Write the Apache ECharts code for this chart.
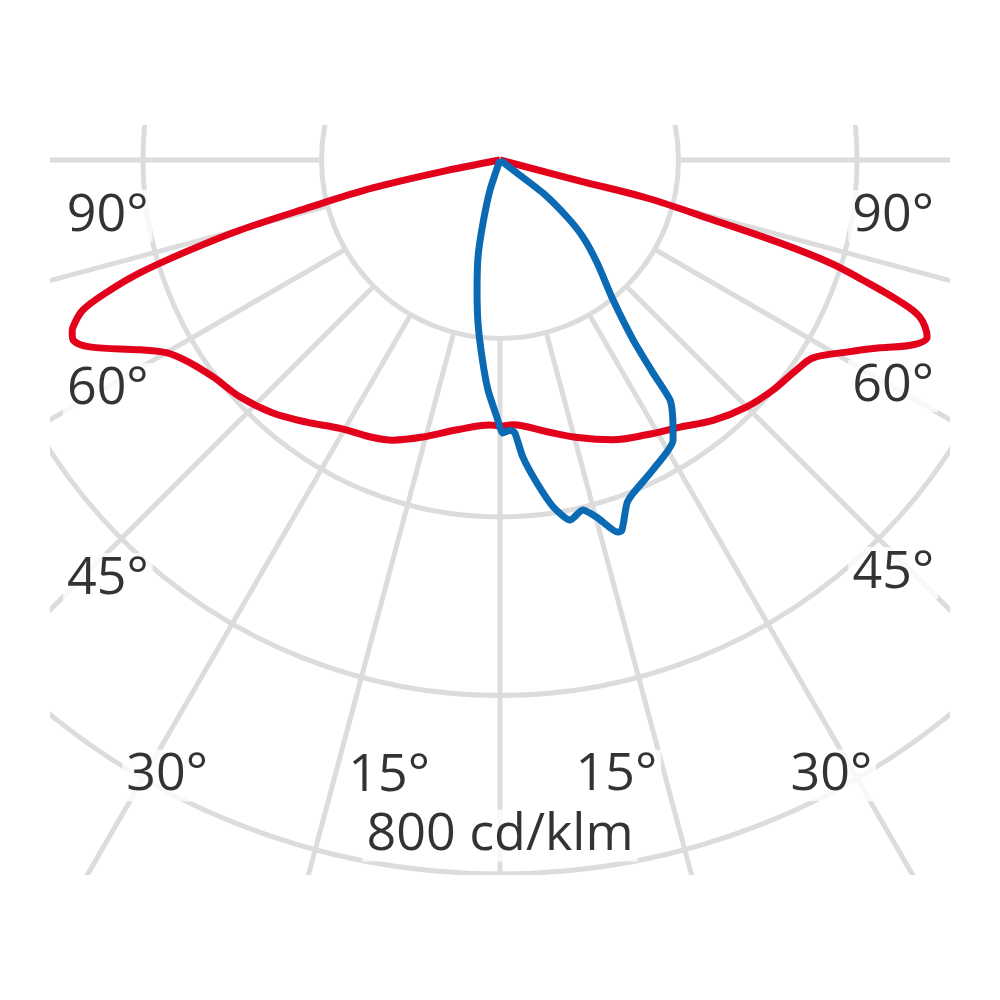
<!DOCTYPE html>
<html>
<head>
<meta charset="utf-8">
<script src="https://cdn.jsdelivr.net/npm/echarts@6/dist/echarts.min.js"></script>
<style>
html,body{margin:0;padding:0;background:#fff;}
#clip{position:absolute;left:50px;top:125px;width:900px;height:750px;overflow:hidden;background:#fff;}
#chart{position:absolute;left:-50px;top:-125px;width:1000px;height:1000px;}
</style>
</head>
<body>
<div id="clip"><div id="chart"></div></div>
<script>
// 光强分布 [cd/klm, 角度]，角度从正下方算起，左正右负
var redData=[
    [0,-80],[93,-75.3],[170,-75.5],[248,-74.3],[327,-73.5],[387,-72.7],[428,-71.7],
    [472,-70.6],[502,-69.5],[518,-67.5],[507,-65.9],[475,-63.7],[444,-61.0],[415,-57.7],
    [407,-54.7],[400,-49.9],[391,-45],[377,-39.3],[361,-34],[349,-28.1],[338,-22],
    [324,-16.1],[309,-9.8],[297,-2.8],[298,0],[297,2.2],[306,9],[322,15.5],[336,20.9],
    [342,24.6],[350,30.8],[365,36.4],[381,41.9],[394,47.6],[403,52.9],[415,56.8],
    [431,59.9],[456,62.2],[505,65.5],[519,67.1],[517,68],[514,68.6],[497,70.2],
    [465,71.4],[423,72.6],[362,73.8],[302,74.9],[223,76],[146,77.6],[69,78.7],[0,82]
]
var blueData=[
    [0,22],[35,18.4],[73,15.1],[111,12.8],[148,10],[184,7.7],[222,5.2],[258,3],
    [288,0.7],[306,-0.6],[303,-2.1],[306,-3.1],[334,-4.4],[364,-6.5],[393,-8.7],
    [411,-11],[403,-13.3],[415,-15.2],[437,-17.5],[437,-18.2],[410,-20.3],[402,-21.8],
    [387,-26.3],[369,-31.7],[350,-33.6],[330,-35.3],[294,-35.7],[251,-36.5],[202,-38.9],
    [159,-43.3],[127,-47.1],[99,-49.6],[61,-52.5],[24,-52.6],[0,-56]
]
// 刻度文字 [半径, 角度, 文字]
var tickLabels=[
    [444,81.9,'90°'],[509,59.7,'60°'],[643,43.1,'45°'],[784,28.4,'30°'],[701,10.2,'15°'],
    [757,0,'800 cd/klm'],
    [702,-10.7,'15°'],[783,-28.3,'30°'],[639,-43.6,'45°'],[508,-60.1,'60°'],[445,-81.9,'90°']
]

var gridColor='#dcdcdc'
var labelSeries=[]
for(var i=0;i<tickLabels.length;i++){
    labelSeries.push({value:[tickLabels[i][0],tickLabels[i][1]],name:tickLabels[i][2]})
}

var myChart=echarts.init(document.getElementById('chart'))
var option={
    animation:false,
    polar:[
        {center:[500,160],radius:[178.5,892.5]},
        {center:[500,160],radius:892.5}
    ],
    angleAxis:[
        {
            polarIndex:0,min:-180,max:180,interval:15,startAngle:90,clockwise:true,
            axisLine:{show:false},axisTick:{show:false},axisLabel:{show:false},
            splitLine:{show:true,lineStyle:{color:gridColor,width:5}}
        },
        {polarIndex:1,min:-180,max:180,startAngle:90,clockwise:true,show:false}
    ],
    radiusAxis:[
        {
            polarIndex:0,min:200,max:1000,interval:200,
            axisLine:{show:false},axisTick:{show:false},axisLabel:{show:false},
            splitLine:{show:true,lineStyle:{color:gridColor,width:5}}
        },
        {polarIndex:1,min:0,max:1000,show:false}
    ],
    series:[
        {
            type:'line',coordinateSystem:'polar',polarIndex:1,clip:false,
            data:redData,smooth:0.35,showSymbol:false,
            lineStyle:{color:'#e2001a',width:7}
        },
        {
            type:'line',coordinateSystem:'polar',polarIndex:1,clip:false,
            data:blueData,smooth:0.2,showSymbol:false,
            lineStyle:{color:'#0b6ab4',width:7}
        },
        {
            type:'scatter',coordinateSystem:'polar',polarIndex:1,
            data:labelSeries,symbolSize:1,itemStyle:{color:'#fff'},
            label:{
                show:true,position:'inside',formatter:'{b}',
                fontFamily:'Open Sans',fontSize:52,color:'#000',
                textBorderWidth:0,backgroundColor:'#fff',padding:[0,4]
            }
        }
    ]
}
myChart.setOption(option)
</script>
</body>
</html>
